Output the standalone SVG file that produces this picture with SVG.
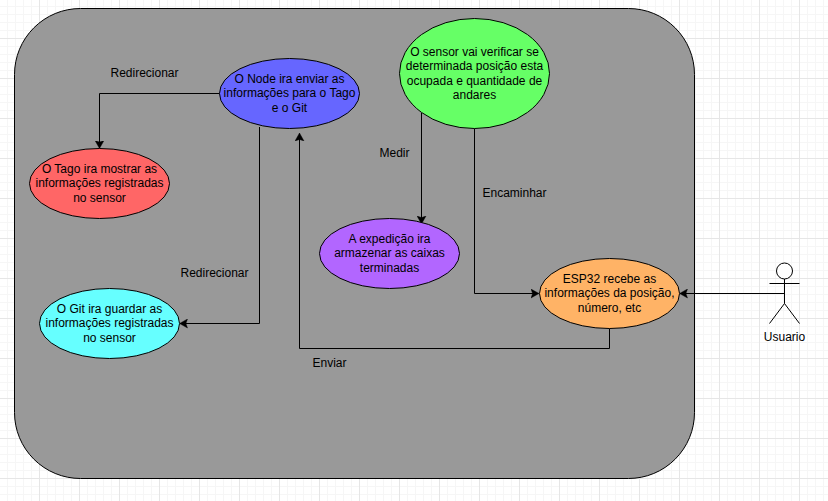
<svg xmlns="http://www.w3.org/2000/svg" width="828" height="501" viewBox="0 0 828 501">
<style>
text{font-family:"Liberation Sans",Arial,sans-serif;font-size:12px;fill:#000;text-anchor:middle}
.n{stroke:#000;stroke-width:1}
.c{fill:none;stroke:#000;stroke-width:1}
</style>
<defs>
<pattern id="g1" width="8" height="8" patternUnits="userSpaceOnUse" x="-1" y="-2"><path d="M0.5 0V8M0 0.5H8" fill="none" stroke="#f6f6f6" stroke-width="1"/></pattern>
<pattern id="g2" width="40" height="40" patternUnits="userSpaceOnUse" x="-1" y="-2"><path d="M0.5 0V40M0 0.5H40" fill="none" stroke="#e6e6e6" stroke-width="1"/></pattern>
<marker id="a" viewBox="0 0 8 10" refX="7.5" refY="5" markerWidth="8" markerHeight="10" markerUnits="userSpaceOnUse" orient="auto"><path d="M0 0.5L8 5L0 9.5L1.6 5Z" fill="#000" stroke="#000" stroke-width="0.4"/></marker>
</defs>
<rect width="828" height="501" fill="#fff"/>
<rect width="828" height="501" fill="url(#g1)"/>
<rect width="828" height="501" fill="url(#g2)"/>
<g id="container"><rect x="14.5" y="8.5" width="680" height="470" rx="66" ry="66" fill="#999" class="n"/></g>
<g id="connectors">
<path class="c" marker-end="url(#a)" d="M219.5 93.5H99.5V148"/>
<path class="c" marker-end="url(#a)" d="M259.5 127V323.5H180"/>
<path class="c" marker-end="url(#a)" d="M609.5 328.5V348.5H299.5V133.5"/>
<path class="c" marker-end="url(#a)" d="M421.5 113V223.5"/>
<path class="c" marker-end="url(#a)" d="M474.5 128.5V293.5H538.5"/>
<path class="c" marker-end="url(#a)" d="M784.5 293.5H680"/>
</g>
<g id="node-ira"><ellipse cx="289.5" cy="93.5" rx="70" ry="35" fill="#6666ff" class="n"/><text x="289.5" y="83">O Node ira enviar as</text><text x="289.5" y="97">informações para o Tago</text><text x="289.5" y="112">e o Git</text></g>
<g id="tago"><ellipse cx="99.5" cy="183.5" rx="70" ry="35" fill="#ff6666" class="n"/><text x="99.5" y="173">O Tago ira mostrar as</text><text x="99.5" y="187">informações registradas</text><text x="99.5" y="202">no sensor</text></g>
<g id="git"><ellipse cx="109.5" cy="323.5" rx="70" ry="35" fill="#66ffff" class="n"/><text x="109.5" y="313">O Git ira guardar as</text><text x="109.5" y="327">informações registradas</text><text x="109.5" y="342">no sensor</text></g>
<g id="sensor"><ellipse cx="474.5" cy="73.5" rx="75" ry="55" fill="#66ff66" class="n"/><text x="474.5" y="56">O sensor vai verificar se</text><text x="474.5" y="70">determinada posição esta</text><text x="474.5" y="85">ocupada e quantidade de</text><text x="474.5" y="99">andares</text></g>
<g id="expedicao"><ellipse cx="389.5" cy="253.5" rx="70" ry="35" fill="#b266ff" class="n"/><text x="389.5" y="243">A expedição ira</text><text x="389.5" y="257">armazenar as caixas</text><text x="389.5" y="272">terminadas</text></g>
<g id="esp32"><ellipse cx="609.5" cy="293.5" rx="70" ry="35" fill="#ffb366" class="n"/><text x="609.5" y="283">ESP32 recebe as</text><text x="609.5" y="297">informações da posição,</text><text x="609.5" y="312">número, etc</text></g>
<g id="usuario"><circle cx="784.5" cy="271" r="8" fill="#fff" class="n"/><path class="c" d="M784.5 279V303.5M769.5 283.5H799.5M769.5 323.5L784.5 303.5L799.5 323.5"/><text x="784.5" y="341">Usuario</text></g>
<g id="labels">
<text x="144.5" y="77">Redirecionar</text>
<text x="214.5" y="277">Redirecionar</text>
<text x="394.5" y="157">Medir</text>
<text x="514.5" y="197">Encaminhar</text>
<text x="329.5" y="367">Enviar</text>
</g>
</svg>
